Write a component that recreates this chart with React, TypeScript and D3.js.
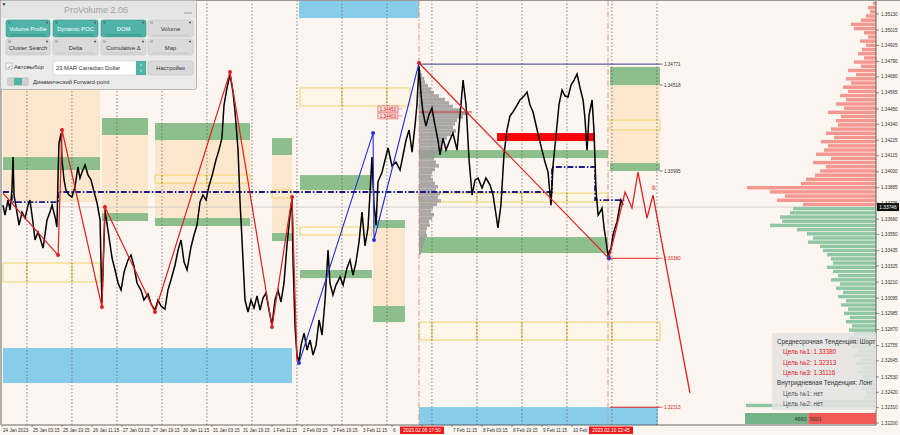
import React from 'react';
import * as d3 from 'd3';

const W = 900;
const H = 435;

// ---------- axis labels ----------
const timeLabels = ['24 Jan 2023', '25 Jan 03:15', '25 Jan 19:15', '26 Jan 11:15', '27 Jan 03:15', '27 Jan 19:15', '30 Jan 11:15', '31 Jan 03:15', '31 Jan 19:15', '1 Feb 11:15', '2 Feb 03:15', '2 Feb 19:15', '3 Feb 11:15', '6 Feb 03:15', '6 Feb 19:15', '7 Feb 11:15', '8 Feb 03:15', '8 Feb 19:15', '9 Feb 11:15', '10 Feb 03:15'];
const labelStepHours = 16;
const dayStartHours = [13.3, 37.3, 61.3, 85.3, 109.3, 133.3, 157.3, 181.3, 205.3, 229.3, 253.3, 277.3, 301.3, 325.3, 349.3];
const priceTicks = [1.3513, 1.35015, 1.34905, 1.3479, 1.3468, 1.34565, 1.3445, 1.3434, 1.34225, 1.34115, 1.34, 1.33885, 1.33775, 1.3366, 1.3355, 1.33435, 1.33325, 1.3321, 1.33095, 1.32985, 1.3287, 1.32755, 1.32645, 1.3253, 1.3242, 1.3231, 1.322];
const timeMarkers: [number, string][] = [[222.4, '2023.02.06 17:50'], [323.2, '2023.02.10 22:45']];

// ---------- price series [trading hours, price] ----------
const priceSeries: [number, number][] = [
[0.5,1.33761],[1.6,1.33690],[3.2,1.33797],[4.3,1.33726],[5.3,1.33869],[5.9,1.34105],[6.4,1.33833],[7.5,1.33747],[9.1,1.33618],[10.7,1.33711],[12.3,1.33668],[13.9,1.33761],[14.9,1.33797],[16.5,1.33640],[17.6,1.33511],[19.2,1.33568],[20.3,1.33525],[21.9,1.33453],[22.9,1.33547],[24.0,1.33654],[25.6,1.33711],[26.7,1.33761],[28.3,1.33675],[29.3,1.33604],[29.9,1.33976],[30.4,1.34206],[31.5,1.34277],[32.0,1.34084],[33.1,1.33941],[34.1,1.33869],[35.7,1.33833],[37.3,1.33819],[38.9,1.33890],[40.5,1.34034],[41.6,1.33955],[42.7,1.33998],[44.3,1.34048],[45.9,1.33976],[47.5,1.33941],[49.1,1.33855],[50.7,1.33776],[52.3,1.33654],[52.8,1.33346],[53.3,1.33059],[54.4,1.33511],[54.9,1.33726],[56.5,1.33582],[58.7,1.33382],[60.3,1.33296],[61.9,1.33203],[63.5,1.33152],[65.1,1.33281],[67.2,1.33367],[68.8,1.33403],[70.4,1.33324],[72.0,1.33203],[74.1,1.33152],[75.7,1.33081],[77.9,1.33124],[79.5,1.33052],[81.6,1.33009],[83.2,1.33081],[84.8,1.33038],[86.9,1.33016],[88.5,1.33152],[90.1,1.33224],[92.3,1.33332],[93.9,1.33439],[95.5,1.33511],[97.1,1.33353],[98.7,1.33296],[100.8,1.33461],[102.4,1.33547],[104.0,1.33618],[105.6,1.33783],[107.2,1.33833],[108.8,1.33797],[110.4,1.33898],[112.0,1.33969],[114.1,1.34084],[115.7,1.34155],[117.3,1.34241],[118.4,1.34478],[120.0,1.34600],[121.6,1.34700],[123.2,1.34571],[124.3,1.34428],[125.9,1.34155],[126.9,1.33797],[128.0,1.33511],[129.6,1.33081],[131.2,1.32995],[132.8,1.33081],[134.4,1.33024],[136.0,1.33110],[137.6,1.33009],[139.2,1.33095],[140.8,1.33131],[142.4,1.33009],[144.0,1.32902],[145.6,1.33081],[147.2,1.33152],[148.8,1.33067],[150.4,1.33203],[152.0,1.33475],[153.6,1.33690],[154.7,1.33804],[155.2,1.33367],[156.3,1.32887],[157.3,1.32687],[158.4,1.32637],[159.5,1.32758],[161.1,1.32844],[162.7,1.32723],[164.3,1.32794],[165.9,1.32687],[167.5,1.32758],[169.1,1.32938],[170.7,1.32830],[172.3,1.33081],[173.9,1.33439],[174.9,1.33203],[176.5,1.33117],[178.1,1.33188],[180.3,1.33246],[181.9,1.33188],[184.0,1.33310],[185.6,1.33367],[187.2,1.33260],[188.8,1.33353],[190.4,1.33496],[192.0,1.33711],[193.6,1.33468],[195.2,1.33597],[196.8,1.33976],[197.3,1.34105],[198.4,1.33761],[199.5,1.33618],[200.5,1.33926],[202.7,1.33998],[204.3,1.34084],[205.9,1.34170],[208.0,1.34041],[210.1,1.34069],[212.3,1.34012],[213.9,1.34120],[215.5,1.34227],[217.1,1.34299],[218.7,1.34141],[220.3,1.34335],[221.3,1.34478],[222.4,1.34757],[223.5,1.34549],[224.5,1.34428],[226.1,1.34327],[227.7,1.34406],[229.3,1.34456],[230.9,1.34335],[232.5,1.34227],[233.6,1.34120],[235.2,1.34241],[236.8,1.34155],[238.9,1.34227],[240.5,1.34277],[242.7,1.34155],[244.3,1.34406],[245.9,1.34657],[247.5,1.34478],[249.1,1.34084],[250.7,1.33833],[252.3,1.33941],[253.9,1.33955],[256.0,1.33883],[258.1,1.33955],[260.3,1.33905],[261.9,1.33833],[263.5,1.33690],[264.5,1.33597],[266.1,1.33761],[267.7,1.34120],[269.3,1.34299],[270.9,1.34399],[272.5,1.34428],[274.7,1.34478],[276.3,1.34514],[278.4,1.34542],[280.0,1.34571],[281.6,1.34478],[283.2,1.34428],[284.8,1.34335],[286.4,1.34241],[288.0,1.34155],[289.6,1.34069],[291.2,1.33998],[292.8,1.33761],[293.9,1.34048],[295.5,1.34263],[297.1,1.34485],[298.7,1.34585],[300.3,1.34542],[301.9,1.34535],[303.5,1.34621],[305.1,1.34657],[306.7,1.34700],[308.3,1.34600],[309.9,1.34514],[310.9,1.34385],[312.0,1.34155],[313.1,1.34406],[314.7,1.34514],[315.7,1.34299],[316.8,1.33869],[317.9,1.33690],[318.9,1.33711],[320.0,1.33740],[321.1,1.33597],[322.1,1.33511],[323.2,1.33403],[324.8,1.33453],[325.9,1.33547],[326.9,1.33597],[328.0,1.33640],[329.1,1.33726],[330.1,1.33797],[331.2,1.33761]
];

// ---------- zigzags ----------
const zigzagRedA: [number, number][] = [[0.5,1.33847],[29.9,1.33403],[32.0,1.34299],[53.3,1.33031],[54.9,1.33747],[81.6,1.32995],[121.6,1.34714],[144.0,1.32887],[154.7,1.33819],[157.3,1.32651],[158.4,1.32630]];
const zigzagBlue: [number, number][] = [[158.4,1.32630],[197.9,1.34277],[198.4,1.33511],[222.4,1.34779]];
const zigzagRedB: [number, number][] = [[222.4,1.34779],[323.7,1.33380]];
const forecastPath: [number, number][] = [[323.7,1.33380],[332.3,1.33855],[336.0,1.33740],[339.2,1.33998],[344.0,1.33668],[347.2,1.33833],[366.9,1.32415]];
const pocStep: [number, number][] = [[0.5,1.33855],[5.3,1.33783],[29.9,1.33855],[293.3,1.34034],[316.3,1.33797],[332.3,1.33797]];
const currentPrice = 1.33747;
const currentPriceText = '1.33746';

// ---------- zones [t0, t1, priceHigh, priceLow] ----------
const orangeZones: number[][] = [[0.5,52.3,1.35015,1.33783],[53.3,77.9,1.34385,1.33647],[81.6,132.3,1.34349,1.33611],[144.0,154.7,1.34241,1.33503],[197.9,214.9,1.33654,1.32923],[324.3,350.9,1.34750,1.34005]];
const greenZones: number[][] = [[53.3,77.9,1.34385,1.34263],[53.3,77.9,1.33704,1.33647],[81.6,132.3,1.34349,1.34227],[81.6,132.3,1.33668,1.33611],[144,154.7,1.34241,1.3412],[144,154.7,1.33561,1.33503],[197.9,214.9,1.33654,1.33597],[197.9,214.9,1.33038,1.32923],[324.3,350.9,1.3475,1.34621],[324.3,350.9,1.34062,1.34005],[0.5,52.3,1.34105,1.34012],[158.9,197.3,1.33976,1.33869],[158.9,197.3,1.33296,1.33238],[222.4,323.2,1.34155,1.34098],[222.4,323.2,1.33532,1.33417]];
const redZones: number[][] = [[264.0,316.3,1.34277,1.3422]];
const yellowZones: number[][] = [[0.5,52.3,1.33346,1.3321],[81.6,132.3,1.33976,1.33919],[144,154.7,1.33869,1.33812],[158.9,217.6,1.346,1.34471],[158.9,197.3,1.33604,1.33547],[222.4,323.2,1.33847,1.33783],[222.4,350.9,1.32923,1.32794],[324.3,350.9,1.3437,1.34299]];
const blueZones: number[][] = [[0.5,154.7,1.32737,1.32486],[158.4,222.4,1.3523,1.35101],[222.4,349.9,1.32314,1.32185]];

// ---------- levels ----------
const levelTexts = ['1.34771', '1.34518', '1.33995', '1.33380', '1.32313'];
const levelPrices = [1.34771, 1.34621, 1.34005, 1.3338, 1.32313];
const levelColors = ['#333', '#333', '#333', '#e02020', '#e02020'];
const levelLines: number[][] = [[222.4, 350.9, 1.34771], [323.7, 350.9, 1.3338], [324.3, 350.9, 1.32313]];
const pocLabelTexts = ['1.34450', '1.34400'];
const pocLabelPrices = [1.3445, 1.344];
const pocLine = [222.4, 250.7, 1.34428];

// ---------- session volume profile (gray) ----------
const profileStart = 222.4;
const profileTop = 1.3473;
const profileStep = 0.00025;
const profileVolumes = [2,3,5,6,9,12,15,20,26,30,34,42,50,44,38,36,34,37,32,28,25,22,24,20,18,15,17,20,16,13,12,14,16,19,17,21,19,22,18,14,12,15,13,10,11,8,7,8,6,5,4,3,2];

// ---------- market profile on the right ----------
const histBase = 1.3375;
const histStep = 0.0003;
const sellVolumes = [73,99,91,106,129,75,70,61,56,50,63,45,60,52,48,55,42,50,45,38,40,35,48,32,40,30,36,28,33,25,30,20,28,15,22,12,18,14,10,16,8,12,22,25,15,10,6,8,3];
const buyVolumes = [83,86,96,94,106,79,69,63,68,56,53,49,45,43,49,43,38,45,36,40,33,38,30,35,28,32,26,30,24,27,22,28,20,24,18,22,16,20,15,18,14,16,12,14,10,12,60,130];
const totals = [4660, 5001];

// ---------- info box ----------
const infoLines: [string, string, number][] = [
  ['Среднесрочная Тенденция: Шорт', '#333', 0],
  ['Цель №1: 1.33380', '#e02020', 6],
  ['Цель №2: 1.32313', '#e02020', 6],
  ['Цель №3: 1.31116', '#e02020', 6],
  ['Внутридневная Тенденция: Лонг', '#333', 0],
  ['Цель №1: нет', '#555', 6],
  ['Цель №2: нет', '#555', 6],
];

const FONT = 'Liberation Sans, Arial, sans-serif';
const AXIS_FS = 4.6;
const CHAR_W = 2.35;
const MARK_L = 19;
const MARK_W = 44;

export default function App() {
  const x = d3.scaleLinear().domain([0, 466.13]).range([2, 876]);
  const y = d3.scaleLinear().domain([1.322, 1.3513]).range([423, 14]);
  const line = d3.line<[number, number]>().x(d => x(d[0])).y(d => y(d[1]));
  const stepLine = d3.line<[number, number]>().x(d => x(d[0])).y(d => y(d[1])).curve(d3.curveStepAfter);
  const profW = d3.scaleLinear().domain([0, 50]).range([0, 50]);
  const histW = d3.scaleLinear().domain([0, 130]).range([0, 130]);
  const totalScale = d3.scaleLinear().domain([0, d3.sum(totals)]).range([0, 131]);
  const right = 876;

  const rect = (z: number[], key: string, props: any) => (
    <rect key={key} x={x(z[0])} y={y(z[2])} width={x(z[1]) - x(z[0])} height={y(z[3]) - y(z[2])} {...props} />
  );

  const yellowSegs: any[] = [];
  yellowZones.forEach((z, i) => {
    const cuts = [z[0], ...dayStartHours.filter(d => d > z[0] + 2 && d < z[1] - 2), z[1]];
    for (let k = 0; k < cuts.length - 1; k++) {
      yellowSegs.push(rect([cuts[k], cuts[k + 1], z[2], z[3]], `y${i}-${k}`, { fill: 'rgba(255,250,220,0.35)', stroke: '#f2d36b', strokeWidth: 1 }));
    }
  });

  // time labels hidden / cut by the red time markers, as in the terminal
  const markerBoxes = timeMarkers.map(m => [x(m[0]) - MARK_L, x(m[0]) - MARK_L + MARK_W]);
  const shownLabels = timeLabels.map((t, i) => {
    const sx = x(i * labelStepHours) + 1;
    let text = t;
    for (const [b0, b1] of markerBoxes) {
      if (sx >= b0 - 1 && sx <= b1) return null;
      const end = sx + text.length * CHAR_W;
      if (sx < b0 && end > b0 - 1) {
        const n = Math.max(0, Math.floor((b0 - 1.5 - sx) / CHAR_W));
        text = text.slice(0, n).trimEnd();
      }
    }
    return { sx, text, i };
  }).filter(Boolean) as { sx: number; text: string; i: number }[];

  const button = (bx: number, by: number, w: number, h: number, label: string, teal: boolean, key: string) => (
    <g key={key}>
      <rect x={bx} y={by} width={w} height={h} rx={2} fill={teal ? '#4fb3a7' : '#dadada'} stroke={teal ? '#3d9c90' : '#c4c4c4'} strokeWidth={0.6} />
      <text x={bx + w / 2} y={by + h / 2 + 2.5} textAnchor="middle" fontSize={5.8} fill={teal ? '#ffffff' : '#333'} fontFamily={FONT}>{label}</text>
      <rect x={bx + 2} y={by + 1.5} width={3} height={2} fill={teal ? '#3a8f84' : '#aaa'} />
      <circle cx={bx + w - 3} cy={by + 2.5} r={1} fill="#555" />
      <rect x={bx + 4} y={by + h - 2.5} width={w - 8} height={1} fill={teal ? '#3a8f84' : '#c8c8c8'} />
    </g>
  );

  return (
    <svg width={W} height={H} style={{ position: 'fixed', left: 0, top: 0 }} fontFamily={FONT}>
      <rect x={0} y={0} width={W} height={H} fill="#fdf5ef" />

      {/* orange / green / red zones */}
      {orangeZones.map((z, i) => rect(z, `o${i}`, { fill: '#fde7cc' }))}
      {greenZones.map((z, i) => rect(z, `g${i}`, { fill: '#8cbf8c' }))}
      {redZones.map((z, i) => rect(z, `r${i}`, { fill: '#ff0000' }))}
      {yellowSegs}
      {blueZones.map((z, i) => rect(z, `b${i}`, { fill: '#87cdea' }))}

      {/* daily grid */}
      {dayStartHours.map((d, i) => (
        <line key={`gr${i}`} x1={x(d)} x2={x(d)} y1={0} y2={425} stroke="#555" strokeWidth={0.7} strokeDasharray="1.5,2" />
      ))}
      {timeMarkers.map((m, i) => (
        <line key={`tm${i}`} x1={x(m[0])} x2={x(m[0])} y1={0} y2={425} stroke="#e08a8a" strokeWidth={0.9} strokeDasharray="6,2,1.5,2" />
      ))}

      {/* current price line */}
      <line x1={2} x2={right} y1={y(currentPrice)} y2={y(currentPrice)} stroke="#c8c8c8" strokeWidth={0.8} />

      {/* right market profile */}
      {sellVolumes.map((v, i) => {
        const top = y(histBase + histStep * (i + 1));
        const h = y(histBase + histStep * i) - top;
        return <rect key={`s${i}`} x={right - histW(v)} y={top + 0.3} width={histW(v)} height={h * 0.82} fill="#f5968f" />;
      })}
      {buyVolumes.map((v, i) => {
        const top = y(histBase - histStep * i);
        const h = y(histBase - histStep * (i + 1)) - top;
        return <rect key={`bv${i}`} x={right - histW(v)} y={top + 0.3} width={histW(v)} height={h * 0.82} fill="#8fc7a2" />;
      })}

      {/* session profile */}
      {profileVolumes.map((v, i) => {
        const top = y(profileTop - profileStep * i);
        const h = y(profileTop - profileStep * (i + 1)) - top;
        return <rect key={`pv${i}`} x={x(profileStart)} y={top} width={profW(v)} height={h} fill="#9a9a9a" opacity={0.85} />;
      })}
      <line x1={x(pocLine[0])} x2={x(pocLine[1])} y1={y(pocLine[2])} y2={y(pocLine[2])} stroke="#d03030" strokeWidth={1.2} />
      {pocLabelTexts.map((t, i) => (
        <g key={`pl${i}`}>
          <line x1={x(210.5)} x2={x(213.5)} y1={y(pocLabelPrices[i])} y2={y(pocLabelPrices[i])} stroke="#e06060" strokeWidth={0.6} />
          <rect x={x(200.5)} y={y(pocLabelPrices[i]) - 3} width={20} height={6} fill="#fbe3e0" stroke="#e05050" strokeWidth={0.6} />
          <text x={x(200.5) + 10} y={y(pocLabelPrices[i]) + 1.7} fontSize={4.6} textAnchor="middle" fill="#d02020">{t}</text>
        </g>
      ))}

      {/* POC dash-dot step */}
      <path d={stepLine(pocStep) || ''} fill="none" stroke="#1c1c8f" strokeWidth={1.8} strokeDasharray="6,2,1.5,2" />

      {/* level lines */}
      {levelLines.map((l, i) => (
        <line key={`ll${i}`} x1={x(l[0])} x2={x(l[1])} y1={y(l[2])} y2={y(l[2])} stroke={i === 0 ? '#3a3a9a' : '#e02020'} strokeWidth={1} />
      ))}
      {levelTexts.map((t, i) => (
        <g key={`lt${i}`}>
          <line x1={x(350.9)} x2={x(350.9) + 3} y1={y(levelPrices[i])} y2={y(levelPrices[i])} stroke={levelColors[i]} strokeWidth={0.6} />
          <text x={x(350.9) + 4} y={y(levelPrices[i]) + 1.6} fontSize={4.6} fill={levelColors[i]}>{t}</text>
        </g>
      ))}

      {/* price */}
      <path d={line(priceSeries) || ''} fill="none" stroke="#000" strokeWidth={1.5} strokeLinejoin="miter" />

      {/* zigzags */}
      <path d={line(zigzagRedA) || ''} fill="none" stroke="#e02020" strokeWidth={1.2} />
      <path d={line(zigzagBlue) || ''} fill="none" stroke="#2233e0" strokeWidth={1.1} />
      <path d={line(zigzagRedB) || ''} fill="none" stroke="#e02020" strokeWidth={1.2} />
      <path d={line(forecastPath) || ''} fill="none" stroke="#e02020" strokeWidth={1.3} />
      {zigzagRedA.slice(1, 9).map((d, i) => <circle key={`zr${i}`} cx={x(d[0])} cy={y(d[1])} r={2} fill="#e02020" />)}
      {zigzagBlue.slice(0, 3).map((d, i) => <circle key={`zb${i}`} cx={x(d[0])} cy={y(d[1])} r={2} fill="#2233e0" />)}
      <circle cx={x(zigzagRedB[0][0])} cy={y(zigzagRedB[0][1])} r={2} fill="#d02020" />
      <circle cx={x(zigzagRedB[1][0])} cy={y(zigzagRedB[1][1])} r={2.2} fill="#5030a0" />
      <text x={x(forecastPath[5][0])} y={y(forecastPath[5][1]) - 5} fontSize={6} textAnchor="middle" fill="#e02020">⑤</text>

      {/* axes */}
      <line x1={right} x2={right} y1={0} y2={425} stroke="#444" strokeWidth={0.8} />
      <line x1={2} x2={right} y1={425} y2={425} stroke="#444" strokeWidth={0.8} />
      <line x1={1} x2={1} y1={0} y2={425} stroke="#999" strokeWidth={1.5} />
      <line x1={0} x2={W} y1={0.5} y2={0.5} stroke="#999" strokeWidth={1} />
      {priceTicks.map((p, i) => (
        <g key={`pt${i}`}>
          <line x1={right} x2={right + 3} y1={y(p)} y2={y(p)} stroke="#444" strokeWidth={0.6} />
          <text x={right + 5} y={y(p) + 1.6} fontSize={AXIS_FS} fill="#333">{p.toFixed(5)}</text>
        </g>
      ))}
      <rect x={right + 1} y={y(currentPrice) - 4} width={22} height={8} fill="#111" />
      <text x={right + 12} y={y(currentPrice) + 1.7} fontSize={4.8} textAnchor="middle" fill="#fff">{currentPriceText}</text>
      {timeLabels.map((t, i) => (
        <line key={`tk${i}`} x1={x(i * labelStepHours)} x2={x(i * labelStepHours)} y1={425} y2={427} stroke="#444" strokeWidth={0.6} />
      ))}
      {shownLabels.map(l => (
        <text key={`tl${l.i}`} x={l.sx} y={432} fontSize={AXIS_FS} fill="#333">{l.text}</text>
      ))}
      {timeMarkers.map((m, i) => (
        <g key={`tmb${i}`}>
          <rect x={x(m[0]) - MARK_L} y={426.5} width={MARK_W} height={7.5} fill="#ee1c1c" />
          <text x={x(m[0]) - MARK_L + MARK_W / 2} y={432.2} fontSize={4.8} textAnchor="middle" fill="#fff">{m[1]}</text>
        </g>
      ))}

      {/* totals strip */}
      <rect x={right - totalScale(d3.sum(totals))} y={413} width={totalScale(totals[0])} height={11} fill="#74b387" />
      <rect x={right - totalScale(d3.sum(totals)) + totalScale(totals[0])} y={413} width={totalScale(totals[1])} height={11} fill="#f25a55" />
      <text x={right - totalScale(d3.sum(totals)) + totalScale(totals[0]) - 1.5} y={420.5} fontSize={5.5} textAnchor="end" fill="#333">{totals[0]}</text>
      <text x={right - totalScale(d3.sum(totals)) + totalScale(totals[0]) + 1.5} y={420.5} fontSize={5.5} fill="#333">{totals[1]}</text>

      {/* info box */}
      <rect x={772} y={333} width={104} height={77} fill="rgba(228,228,228,0.88)" />
      {infoLines.map((l, i) => (
        <text key={`il${i}`} x={777 + l[2]} y={344 + i * 10.3} fontSize={6.3} fill={l[1]}>{l[0]}</text>
      ))}

      {/* ProVolume panel */}
      <g>
        <rect x={0.5} y={0.5} width={196} height={89} rx={2} fill="#ebebeb" stroke="#b8b8b8" strokeWidth={1} />
        <rect x={1} y={1} width={195} height={17} fill="#e4e4e4" />
        <text x={1.5} y={6} fontSize={5} fill="#333">▼</text>
        <text x={96} y={13} fontSize={9} textAnchor="middle" fill="#a3a3a3">ProVolume 2.06</text>
        <line x1={184} x2={192} y1={13} y2={13} stroke="#888" strokeWidth={0.8} />
        {button(6, 20, 44, 17, 'Volume Profile', true, 'b1')}
        {button(53, 20, 45, 17, 'Dynamic POC', true, 'b2')}
        {button(101, 20, 45, 17, 'DOM', true, 'b3')}
        {button(148, 20, 45, 17, 'Volume', false, 'b4')}
        {button(6, 39, 44, 16, 'Cluster Search', false, 'b5')}
        {button(53, 39, 45, 16, 'Delta', false, 'b6')}
        {button(101, 39, 45, 16, 'Cumulative Δ', false, 'b7')}
        {button(148, 39, 45, 16, 'Map', false, 'b8')}
        <rect x={6} y={63} width={6} height={6} fill="#fff" stroke="#888" strokeWidth={0.5} />
        <text x={6.5} y={68.5} fontSize={6} fill="#3a9c90">✓</text>
        <text x={14} y={69} fontSize={5.8} fill="#333">Автовыбор</text>
        <rect x={53} y={61} width={93} height={14} fill="#fff" stroke="#c8c8c8" strokeWidth={0.6} />
        <text x={56} y={70} fontSize={5.8} fill="#333">23 MAR Canadian Dollar</text>
        <rect x={136} y={61} width={10} height={14} fill="#4fb3a7" />
        <text x={141} y={67} fontSize={4.5} textAnchor="middle" fill="#fff">˄</text>
        <text x={141} y={73} fontSize={4.5} textAnchor="middle" fill="#fff">˅</text>
        <rect x={148} y={61} width={45} height={14} rx={2} fill="#dadada" stroke="#c4c4c4" strokeWidth={0.6} />
        <text x={170.5} y={70} fontSize={5.8} textAnchor="middle" fill="#333">Настройки</text>
        <rect x={7} y={77} width={22} height={9} rx={2} fill="#cfcfcf" />
        <rect x={14} y={78} width={8} height={7} fill="#4fb3a7" />
        <text x={33} y={84} fontSize={5.8} fill="#333">Динамический Forward-point</text>
      </g>
    </svg>
  );
}
